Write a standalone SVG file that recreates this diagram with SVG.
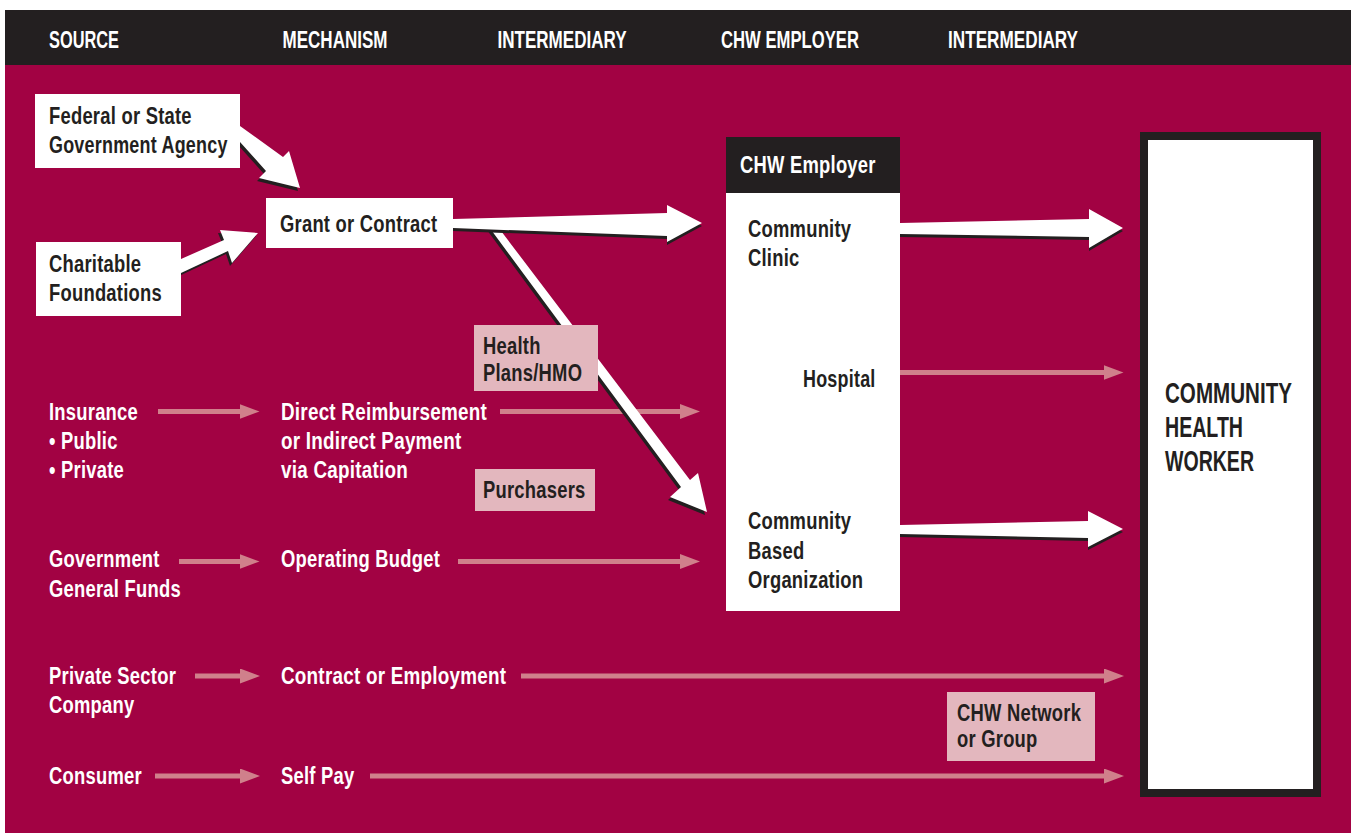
<svg xmlns="http://www.w3.org/2000/svg" width="1351" height="833" viewBox="0 0 1351 833">
<style>
text { font-family: "Liberation Sans", Arial, sans-serif; font-weight: bold; font-size: 23px; letter-spacing: 0.3px; }
.w { fill: #ffffff; }
.d { fill: #231f20; }
.hd { font-size: 24px; fill: #ffffff; letter-spacing: 0; }
.big { font-size: 29px; fill: #231f20; letter-spacing: 0; }
.box { fill: #ffffff; }
.tag { fill: #e3b7be; }
.plink { stroke: #d0808b; stroke-width: 5; fill: none; marker-end: url(#ph); }
.arr { fill: #ffffff; }
.sh { fill: #231f20; }
</style>
<defs>
<marker id="ph" markerUnits="userSpaceOnUse" viewBox="0 0 20 15" refX="5" refY="7.5" markerWidth="20" markerHeight="15" orient="auto">
<path d="M0,0 L20,7.5 L0,15 Z" fill="#d0808b"/>
</marker>
</defs>
<rect x="0" y="0" width="1351" height="833" fill="#ffffff"/>
<rect x="5" y="65" width="1346" height="768" fill="#a20243"/>
<g id="header">
<rect x="5" y="10" width="1346" height="55" fill="#231f20"/>
<text class="hd" x="49" y="47.5" textLength="70" lengthAdjust="spacingAndGlyphs">SOURCE</text>
<text class="hd" x="282.5" y="47.5" textLength="105" lengthAdjust="spacingAndGlyphs">MECHANISM</text>
<text class="hd" x="497.5" y="47.5" textLength="129" lengthAdjust="spacingAndGlyphs">INTERMEDIARY</text>
<text class="hd" x="721" y="47.5" textLength="138" lengthAdjust="spacingAndGlyphs">CHW EMPLOYER</text>
<text class="hd" x="948" y="47.5" textLength="130" lengthAdjust="spacingAndGlyphs">INTERMEDIARY</text>
</g>
<g id="connectors">
<line class="plink" x1="158" y1="411.5" x2="244.5" y2="411.5"/>
<line class="plink" x1="500" y1="411.5" x2="685" y2="411.5"/>
<line class="plink" x1="179" y1="561.5" x2="244.5" y2="561.5"/>
<line class="plink" x1="458" y1="561.5" x2="685" y2="561.5"/>
<line class="plink" x1="195" y1="676" x2="245" y2="676"/>
<line class="plink" x1="521" y1="676" x2="1109" y2="676"/>
<line class="plink" x1="155" y1="776" x2="245" y2="776"/>
<line class="plink" x1="370" y1="776" x2="1109" y2="776"/>
<line class="plink" x1="889" y1="372.5" x2="1108.5" y2="372.5"/>
<line class="plink" x1="771.5" y1="280" x2="771.5" y2="488"/>
<line class="plink" x1="837.5" y1="400" x2="837.5" y2="488"/>
<g id="big-arrows">
<polygon class="sh" transform="translate(-2,3)" points="240,126 283,157 289,151 300,188 259,178 266,171 240,142"/>
<polygon class="arr" points="240,126 283,157 289,151 300,188 259,178 266,171 240,142"/>
<polygon class="sh" transform="translate(-2,3)" points="181,259 224,240 220,230 258,233 232,263 228,251 181,273"/>
<polygon class="arr" points="181,259 224,240 220,230 258,233 232,263 228,251 181,273"/>
<polygon class="sh" transform="translate(-2,3)" points="489,227 498,227 690,480 698,473 707,512 670,497 681,487"/>
<polygon class="arr" points="489,227 498,227 690,480 698,473 707,512 670,497 681,487"/>
<polygon class="sh" transform="translate(0,3)" points="453,219 667,213 667,205 702,223 667,242 667,236 453,228"/>
<polygon class="arr" points="453,219 667,213 667,205 702,223 667,242 667,236 453,228"/>
<polygon class="sh" transform="translate(0,3)" points="900,223 1089,219 1089,209 1123,228 1089,248 1089,237 900,234"/>
<polygon class="arr" points="900,223 1089,219 1089,209 1123,228 1089,248 1089,237 900,234"/>
<polygon class="sh" transform="translate(0,3)" points="900,525 1088,521 1088,511 1123,529 1088,547 1088,538 900,534"/>
<polygon class="arr" points="900,525 1088,521 1088,511 1123,529 1088,547 1088,538 900,534"/>
</g>
</g>
<g id="federal">
<rect class="box" x="35" y="94" width="205" height="74"/>
<text class="d" transform="translate(49 124) scale(0.8 1)">Federal or State</text>
<text class="d" transform="translate(49 153) scale(0.78 1)">Government Agency</text>
</g>
<g id="charitable">
<rect class="box" x="36" y="242" width="145" height="74"/>
<text class="d" transform="translate(49 272) scale(0.8 1)">Charitable</text>
<text class="d" transform="translate(49 301) scale(0.8 1)">Foundations</text>
</g>
<g id="grant">
<rect class="box" x="266" y="198" width="187" height="50"/>
<text class="d" transform="translate(280 232) scale(0.8 1)">Grant or Contract</text>
</g>
<g id="chw-employer">
<rect x="726" y="137" width="174" height="56" fill="#231f20"/>
<rect class="box" x="726" y="193" width="174" height="418"/>
<text class="w" transform="translate(740 173) scale(0.8 1)">CHW Employer</text>
</g>
<g id="clinic">
<text class="d" transform="translate(748 237) scale(0.8 1)">Community</text>
<text class="d" transform="translate(748 266) scale(0.8 1)">Clinic</text>
</g>
<g id="hospital">
<text class="d" transform="translate(803 387) scale(0.78 1)">Hospital</text>
</g>
<g id="cbo">
<text class="d" transform="translate(748 529) scale(0.8 1)">Community</text>
<text class="d" transform="translate(748 559) scale(0.8 1)">Based</text>
<text class="d" transform="translate(748 588) scale(0.8 1)">Organization</text>
</g>
<g id="chw">
<rect x="1144" y="136" width="173" height="657" fill="#ffffff" stroke="#231f20" stroke-width="8"/>
<text class="big" x="1165" y="403" textLength="127" lengthAdjust="spacingAndGlyphs">COMMUNITY</text>
<text class="big" x="1165" y="437" textLength="78" lengthAdjust="spacingAndGlyphs">HEALTH</text>
<text class="big" x="1165" y="471" textLength="89" lengthAdjust="spacingAndGlyphs">WORKER</text>
</g>
<g id="health-plans">
<rect class="tag" x="474" y="325" width="124" height="66"/>
<text class="d" transform="translate(483 354) scale(0.8 1)">Health</text>
<text class="d" transform="translate(483 381) scale(0.8 1)">Plans/HMO</text>
</g>
<g id="purchasers">
<rect class="tag" x="475" y="469" width="120" height="42"/>
<text class="d" transform="translate(483 498) scale(0.8 1)">Purchasers</text>
</g>
<g id="chw-network">
<rect class="tag" x="947" y="692" width="148" height="69"/>
<text class="d" transform="translate(957 721) scale(0.8 1)">CHW Network</text>
<text class="d" transform="translate(957 747) scale(0.8 1)">or Group</text>
</g>
<g id="insurance">
<text class="w" transform="translate(49 420) scale(0.8 1)">Insurance</text>
<text class="w" transform="translate(49 449) scale(0.8 1)">• Public</text>
<text class="w" transform="translate(49 478) scale(0.8 1)">• Private</text>
</g>
<g id="direct">
<text class="w" transform="translate(281 420) scale(0.82 1)">Direct Reimbursement</text>
<text class="w" transform="translate(281 449) scale(0.82 1)">or Indirect Payment</text>
<text class="w" transform="translate(281 478) scale(0.82 1)">via Capitation</text>
</g>
<g id="government">
<text class="w" transform="translate(49 567) scale(0.8 1)">Government</text>
<text class="w" transform="translate(49 597) scale(0.8 1)">General Funds</text>
</g>
<g id="operating">
<text class="w" transform="translate(281 567) scale(0.8 1)">Operating Budget</text>
</g>
<g id="private">
<text class="w" transform="translate(49 684) scale(0.8 1)">Private Sector</text>
<text class="w" transform="translate(49 713) scale(0.8 1)">Company</text>
</g>
<g id="contract">
<text class="w" transform="translate(281 684) scale(0.82 1)">Contract or Employment</text>
</g>
<g id="consumer">
<text class="w" transform="translate(49 784) scale(0.8 1)">Consumer</text>
</g>
<g id="selfpay">
<text class="w" transform="translate(281 784) scale(0.8 1)">Self Pay</text>
</g>
</svg>
